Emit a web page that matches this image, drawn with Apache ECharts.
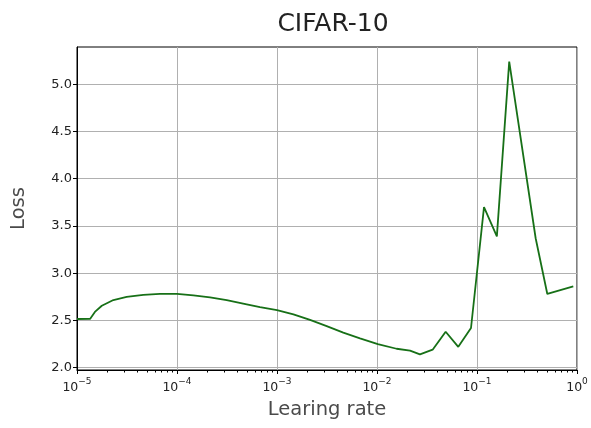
<!DOCTYPE html>
<html>
<head>
<meta charset="utf-8">
<title>CIFAR-10 learning rate range test</title>
<script src="https://cdn.jsdelivr.net/npm/echarts@6/dist/echarts.min.js"></script>
<style>
  html, body { margin: 0; padding: 0; background: #fff; }
  #chart { width: 591px; height: 428px; }
</style>
</head>
<body>
<div id="chart"></div>
<script>
// Learning rates swept during the range test
const learningRates = [
  1.0e-5, 1.35e-5, 1.51e-5, 1.77e-5, 2.31e-5, 3.14e-5, 4.60e-5, 6.76e-5,
  1.0e-4, 1.46e-4, 2.14e-4, 3.14e-4, 4.98e-4, 6.76e-4,
  1.0e-3, 1.46e-3, 2.14e-3, 3.14e-3, 4.60e-3, 6.76e-3,
  1.02e-2, 1.57e-2, 2.14e-2, 2.69e-2, 3.60e-2, 4.86e-2, 6.50e-2, 8.71e-2,
  0.1175, 0.158, 0.210, 0.386, 0.505, 0.918
];

// Training loss recorded at each learning rate
const losses = [
  2.515, 2.516, 2.59, 2.655, 2.716, 2.75, 2.77, 2.78,
  2.78, 2.765, 2.745, 2.716, 2.67, 2.64,
  2.61, 2.565, 2.505, 2.44, 2.37, 2.31,
  2.25, 2.20, 2.18, 2.14, 2.19, 2.38, 2.22, 2.42,
  3.70, 3.39, 5.24, 3.37, 2.78, 2.86
];

// Axis ranges and labelled ticks
const xRange = [1e-5, 1];
const xTickValues = [1e-5, 1e-4, 1e-3, 1e-2, 1e-1, 1];
const yRange = [1.975, 5.395];
const yTickValues = [2.0, 2.5, 3.0, 3.5, 4.0, 4.5, 5.0];

// Unlabelled minor ticks at 2..9 within each decade
const minorTicks = [];
for (let d = -5; d < 0; d++) {
  for (let k = 2; k <= 9; k++) minorTicks.push(k * Math.pow(10, d));
}

const FONT = '"DejaVu Sans", sans-serif';
const seriesData = learningRates.map((lr, i) => [lr, losses[i]]);

const chart = echarts.init(document.getElementById('chart'), null, { renderer: 'canvas' });
chart.setOption({
  animation: false,
  backgroundColor: '#ffffff',
  title: {
    text: 'CIFAR-10',
    left: 328,
    top: 7,
    textAlign: 'center',
    textStyle: { fontFamily: FONT, fontSize: 25, fontWeight: 'normal', color: '#222' }
  },
  grid: {
    left: 77, right: 14, top: 47, bottom: 58,
    show: true, borderColor: '#000', borderWidth: 1, backgroundColor: 'transparent'
  },
  xAxis: [
    {
      type: 'log',
      logBase: 10,
      min: xRange[0],
      max: xRange[1],
      splitNumber: 5,
      name: 'Learing rate',
      nameLocation: 'middle',
      nameGap: 30,
      nameTextStyle: { fontFamily: FONT, fontSize: 19.5, color: '#4a4a4a' },
      axisLine: { show: true, lineStyle: { color: '#000', width: 1 } },
      axisTick: { show: true, inside: false, length: 4, customValues: xTickValues, lineStyle: { color: '#000' } },
      splitLine: { show: true, lineStyle: { color: '#b0b0b0', width: 1 } },
      axisLabel: {
        margin: 7,
        color: '#222',
        customValues: xTickValues,
        formatter: function (v) {
          const e = Math.round(Math.log10(v));
          const s = e < 0 ? '\u2212' + Math.abs(e) : String(e);
          return '{b|10}{s|' + s + '}';
        },
        rich: {
          b: { fontFamily: FONT, fontSize: 12.5, color: '#222', verticalAlign: 'bottom', lineHeight: 17 },
          s: { fontFamily: FONT, fontSize: 9, color: '#222', verticalAlign: 'top', lineHeight: 17 }
        }
      }
    },
    {
      type: 'log',
      logBase: 10,
      min: xRange[0],
      max: xRange[1],
      position: 'bottom',
      axisLine: { show: false },
      splitLine: { show: false },
      axisLabel: { show: false },
      axisTick: { show: true, inside: false, length: 2.5, customValues: minorTicks, lineStyle: { color: '#000' } }
    }
  ],
  yAxis: {
    type: 'value',
    min: yRange[0],
    max: yRange[1],
    splitNumber: 7,
    name: 'Loss',
    nameLocation: 'middle',
    nameGap: 48,
    nameTextStyle: { fontFamily: FONT, fontSize: 19.5, color: '#4a4a4a' },
    axisLine: { show: true, lineStyle: { color: '#000', width: 1 } },
    axisTick: { show: true, inside: false, length: 4, customValues: yTickValues, lineStyle: { color: '#000' } },
    splitLine: { show: true, lineStyle: { color: '#b0b0b0', width: 1 } },
    axisLabel: {
      margin: 5,
      fontFamily: FONT,
      fontSize: 13,
      color: '#222',
      customValues: yTickValues,
      formatter: function (v) { return v.toFixed(1); }
    }
  },
  series: [{
    type: 'line',
    xAxisIndex: 0,
    data: seriesData,
    showSymbol: false,
    symbol: 'none',
    smooth: false,
    lineStyle: { color: '#177017', width: 1.8 },
    clip: true
  }]
});
</script>
</body>
</html>
